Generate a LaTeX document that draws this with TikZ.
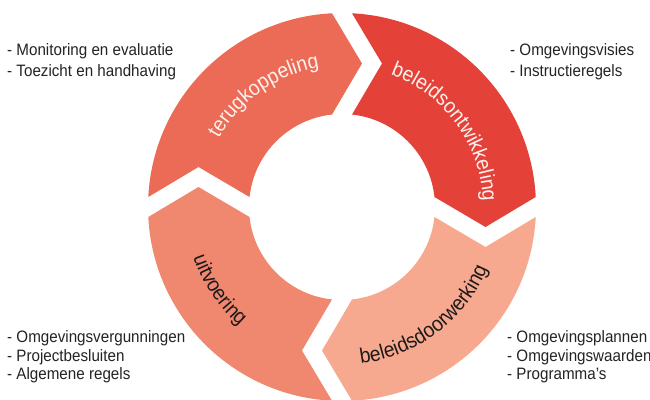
\documentclass[tikz,border=0pt]{standalone}
\usepackage{fontspec}
\setmainfont{Liberation Sans}[FakeStretch=0.92]
\newfontfamily\ringfont{Liberation Sans}[FakeStretch=0.92]
\usetikzlibrary{calc,decorations.text}
\definecolor{terug}{RGB}{236,107,86}
\definecolor{ontw}{RGB}{228,66,57}
\definecolor{doorw}{RGB}{246,169,143}
\definecolor{uitv}{RGB}{240,136,111}
\definecolor{lighttxt}{RGB}{253,242,238}
\definecolor{darktxt}{RGB}{30,26,26}
\definecolor{listtxt}{RGB}{35,35,35}
\newcommand\ringtxt{\ringfont\fontsize{21pt}{21pt}\selectfont}
\newcommand\ringsegment[4]{%
  \fill[ringseg=#4] ($(c)+({#2-\aO}:194pt)$) coordinate (#1-a)
    arc[start angle={#2-\aO}, end angle={#3+\aO}, radius=194pt]
    -- ($(c)+(#3:143.5pt)+({#3-90}:20pt)$) coordinate (#1-tip)
    -- ($(c)+({#3+\aI}:93pt)$)
    arc[start angle={#3+\aI}, end angle={#2-\aI}, radius=93pt]
    -- ($(c)+(#2:143.5pt)+({#2-90}:40pt)$) coordinate (#1-notch)
    -- cycle;}
\begin{document}
\begin{tikzpicture}
\tikzset{
  ringseg/.style={fill=#1, draw=none},
  listtext/.style={inner sep=0pt, align=left, text=listtxt,
    font=\fontsize{16.5pt}{20.5pt}\selectfont},
  listtextlow/.style={listtext, font=\fontsize{16.5pt}{18.5pt}\selectfont},
}
\useasboundingbox (0,0) rectangle (650pt,399pt);
\coordinate (c) at (342pt,192pt);
\pgfmathsetmacro\aO{asin(10/194)}
\pgfmathsetmacro\aI{asin(10/93)}
\ringsegment{tk}{180}{90}{terug}
\ringsegment{bo}{90}{0}{ontw}
\ringsegment{bd}{0}{-90}{doorw}
\ringsegment{ui}{270}{180}{uitv}
% ring labels
\path[decorate, decoration={text along path, text align=center,
  text={|\ringtxt\color{lighttxt}|terugkoppeling}}]
  ($(c)+(170:141pt)$) arc[start angle=170, end angle=80, radius=141pt];
\path[decorate, decoration={text along path, text align=center,
  text={|\ringtxt\color{lighttxt}|beleidsontwikkeling}}]
  ($(c)+(81:141pt)$) arc[start angle=81, end angle=-9, radius=141pt];
\path[decorate, decoration={text along path, text align=center,
  text={|\ringtxt\color{darktxt}|beleidsdoorwerking}}]
  ($(c)+(-103:158pt)$) arc[start angle=-103, end angle=-3, radius=158pt];
\path[decorate, decoration={text along path, text align=center,
  text={|\ringtxt\color{darktxt}|uitvoering}}]
  ($(c)+(174:157pt)$) arc[start angle=174, end angle=254, radius=157pt];
% lists (base anchor = baseline of the last line)
\node[listtext, anchor=base west] (tl) at (7pt,322.5pt)
  {- Monitoring en evaluatie\\- Toezicht en handhaving};
\node[listtext, anchor=base west] (tr) at (510pt,322.5pt)
  {- Omgevingsvisies\\- Instructieregels};
\node[listtextlow, anchor=base west] (bl) at (7pt,19.5pt)
  {- Omgevingsvergunningen\\- Projectbesluiten\\- Algemene regels};
\node[listtextlow, anchor=base west] (br) at (507pt,19.5pt)
  {- Omgevingsplannen\\- Omgevingswaarden\\- Programma's};
\end{tikzpicture}
\end{document}
